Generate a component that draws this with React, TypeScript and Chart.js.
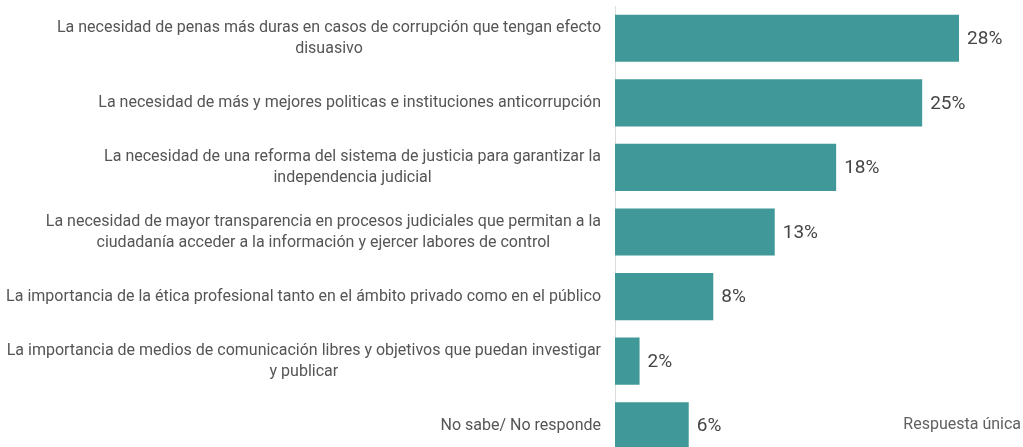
import React, { useEffect, useRef } from "react";
import { Chart, registerables } from "chart.js";

Chart.register(...registerables);

const categories: string[][] = [
  ["La necesidad de penas más duras en casos de corrupción que tengan efecto", "disuasivo"],
  ["La necesidad de más y mejores politicas e instituciones anticorrupción"],
  ["La necesidad de una reforma del sistema de justicia para garantizar la", "independencia judicial"],
  ["La necesidad de mayor transparencia en procesos judiciales que permitan a la", "ciudadanía acceder a la información y ejercer labores de control"],
  ["La importancia de la ética profesional tanto en el ámbito privado como en el público"],
  ["La importancia de medios de comunicación libres y objetivos que puedan investigar", "y publicar"],
  ["No sabe/ No responde"],
];

const values: number[] = [28, 25, 18, 13, 8, 2, 6];
const valueLabels: string[] = ["28%", "25%", "18%", "13%", "8%", "2%", "6%"];
const footnote = "Respuesta única";

const BAR_COLOR = "#409898";
const LABEL_COLOR = "#555555";
const VALUE_COLOR = "#454545";
const FONT = "Roboto, 'Noto Sans', sans-serif";

const labelsPlugin = {
  id: "customLabels",
  afterDraw(chart: any) {
    const ctx = chart.ctx;
    const yScale = chart.scales.y;
    const area = chart.chartArea;
    ctx.save();
    // category labels
    ctx.font = `16px ${FONT}`;
    ctx.fillStyle = LABEL_COLOR;
    ctx.textBaseline = "middle";
    ctx.textAlign = "center";
    const lineH = 21;
    const rightEdge = area.left - 14;
    categories.forEach((lines, i) => {
      const cy = yScale.getPixelForValue(i);
      const widest = Math.max(...lines.map((l) => ctx.measureText(l).width));
      const cx = rightEdge - widest / 2;
      const startY = cy - ((lines.length - 1) * lineH) / 2;
      lines.forEach((l, j) => ctx.fillText(l, cx, startY + j * lineH));
    });
    // value labels
    const meta = chart.getDatasetMeta(0);
    ctx.font = `19px ${FONT}`;
    ctx.fillStyle = VALUE_COLOR;
    ctx.textAlign = "left";
    meta.data.forEach((bar: any, i: number) => {
      ctx.fillText(valueLabels[i], bar.x + 8, bar.y + 1);
    });
    // footnote
    ctx.font = `16px ${FONT}`;
    ctx.fillStyle = "#606060";
    ctx.textAlign = "right";
    ctx.fillText(footnote, chart.width - 2, yScale.getPixelForValue(6) - 1);
    ctx.restore();
  },
};

export default function App() {
  const canvasRef = useRef<HTMLCanvasElement | null>(null);

  useEffect(() => {
    if (!canvasRef.current) return;
    const chart = new Chart(canvasRef.current, {
      type: "bar",
      data: {
        labels: categories.map((c) => c.join(" ")),
        datasets: [
          {
            data: values,
            backgroundColor: BAR_COLOR,
            borderWidth: 0,
            barPercentage: 0.73,
            categoryPercentage: 1,
          },
        ],
      },
      options: {
        indexAxis: "y",
        animation: false,
        responsive: false,
        layout: { padding: { top: 6, bottom: 0, left: 0, right: 5 } },
        plugins: {
          legend: { display: false },
          tooltip: { enabled: false },
        },
        scales: {
          x: {
            display: false,
            min: 0,
            max: 32.8,
          },
          y: {
            ticks: { display: false },
            grid: { display: false },
            border: { display: true, color: "#dcdcdc", width: 1 },
            afterFit: (scale: any) => {
              scale.width = 615;
            },
          },
        },
      },
      plugins: [labelsPlugin],
    });
    return () => chart.destroy();
  }, []);

  return (
    <div
      style={{
        position: "absolute",
        top: 0,
        left: 0,
        width: 1023,
        height: 447,
        overflow: "hidden",
        background: "#ffffff",
      }}
    >
      <canvas ref={canvasRef} width={1023} height={458} style={{ width: 1023, height: 458 }} />
    </div>
  );
}
